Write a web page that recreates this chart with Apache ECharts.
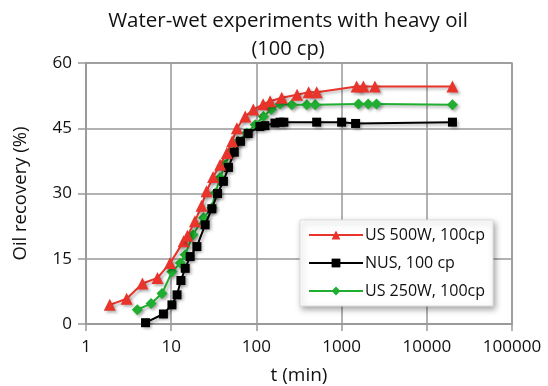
<!DOCTYPE html>
<html><head><meta charset="utf-8">
<script src="https://cdn.jsdelivr.net/npm/echarts@6/dist/echarts.min.js"></script>
<style>html,body{margin:0;padding:0;background:#fff}#c{width:548px;height:386px}</style>
</head><body><div id="c"></div>
<script>
const xTicks = [1, 10, 100, 1000, 10000, 100000];
const yTicks = [0, 15, 30, 45, 60];
const seriesNames = ['US 500W, 100cp', 'NUS, 100 cp', 'US 250W, 100cp'];
const us500 = [[1.9,4.4],[3,5.8],[4.6,9.3],[6.9,10.6],[9.7,14],[14,19],[15.5,20.3],[19,23.6],[22.7,27.2],[26,30.5],[31,33.8],[37.5,36.6],[45,39.3],[52,42],[59,45],[74,47.7],[92,49.3],[120,50.5],[145,51.2],[198,52],[300,52.7],[410,53.3],[510,53.3],[1500,54.6],[1800,54.6],[2460,54.6],[20000,54.6]];
const nus = [[5,0.3],[8.1,2.3],[10.2,4.4],[11.7,6.7],[13,10],[14.6,12.8],[16.7,15.5],[20,17.8],[25,22.8],[30,26.5],[35,30],[41,32.8],[47,36],[55,39.5],[65,42],[80,43.8],[110,45.4],[126,45.6],[165,46.2],[190,46.4],[210,46.4],[510,46.4],[1000,46.4],[1460,46.1],[20000,46.4]];
const us250 = [[4,3.3],[5.8,4.7],[7.8,7],[10.2,12],[12.8,14],[14.6,15.9],[18,20.5],[24,24.4],[30,26.7],[33,30.1],[37.5,33.6],[43,36.6],[49,39.3],[61,42],[77,43.9],[97,45.8],[121,47.7],[150,49.3],[190,50.6],[260,50.4],[390,50.4],[490,50.4],[1580,50.6],[2050,50.6],[2570,50.6],[20000,50.4]];
const colors = ['#e8342a', '#000000', '#1fae2f'];
const symbols = ['triangle', 'rect', 'diamond'];
const datas = [us500, nus, us250];
const FONT = '"Open Sans", sans-serif';
const chart = echarts.init(document.getElementById('c'), null, {renderer: 'canvas'});
chart.setOption({
  animation: false,
  backgroundColor: '#fff',
  title: [
    {text: 'Water-wet experiments with heavy oil', left: 283, top: 6, textAlign: 'center',
     textStyle: {fontFamily: FONT, fontSize: 20.5, fontWeight: 'normal', color: '#111'}},
    {text: '(100 cp)', left: 283, top: 34, textAlign: 'center',
     textStyle: {fontFamily: FONT, fontSize: 20, fontWeight: 'normal', color: '#111'}}
  ],
  legend: {
    orient: 'vertical', left: 300, top: 220, data: seriesNames,
    itemWidth: 54, itemHeight: 11, itemGap: 12,
    padding: [7, 8, 7, 8],
    backgroundColor: '#fff', borderColor: '#ddd', borderWidth: 1,
    shadowBlur: 6, shadowColor: 'rgba(0,0,0,0.35)', shadowOffsetX: 2, shadowOffsetY: 3,
    textStyle: {fontFamily: FONT, fontSize: 16, color: '#111', padding: [0, 0, 0, -3]}
  },
  grid: {left: 86, right: 36, top: 63, bottom: 62, outerBoundsMode: 'none', containLabel: false,
         show: true, borderColor: '#999', borderWidth: 1.5},
  xAxis: {
    type: 'log', logBase: 10, min: xTicks[0], max: xTicks[xTicks.length - 1],
    name: 't (min)', nameLocation: 'middle', nameGap: 42,
    nameTextStyle: {fontFamily: FONT, fontSize: 19, color: '#111'},
    axisLine: {show: true, lineStyle: {color: '#999', width: 1.5}},
    axisTick: {show: true, length: 7, lineStyle: {color: '#999', width: 1.5}},
    minorTick: {show: false},
    splitLine: {show: true, lineStyle: {color: '#999', width: 1.5}},
    axisLabel: {fontFamily: FONT, fontSize: 17, color: '#111', margin: 15,
      formatter: v => String(Math.round(v))}
  },
  yAxis: {
    type: 'value', min: yTicks[0], max: yTicks[yTicks.length - 1], interval: 15,
    name: 'Oil recovery (%)', nameLocation: 'middle', nameGap: 56,
    nameTextStyle: {fontFamily: FONT, fontSize: 18.5, color: '#111'},
    axisLine: {show: true, lineStyle: {color: '#999', width: 1.5}},
    axisTick: {show: true, length: 8, lineStyle: {color: '#999', width: 1.5}},
    splitLine: {show: true, lineStyle: {color: '#999', width: 1.5}},
    axisLabel: {fontFamily: FONT, fontSize: 17, color: '#111', margin: 14}
  },
  series: datas.map((d, i) => ({
    name: seriesNames[i], type: 'line', data: d, z: 3 - i + 2,
    symbol: symbols[i], symbolSize: i === 1 ? 9 : (i === 0 ? 12 : 11),
    showSymbol: true,
    lineStyle: {color: colors[i], width: 2, shadowBlur: 3, shadowColor: 'rgba(0,0,0,0.3)', shadowOffsetX: 2, shadowOffsetY: 2},
    itemStyle: {color: colors[i], borderWidth: 0, shadowBlur: 3, shadowColor: 'rgba(0,0,0,0.3)', shadowOffsetX: 2, shadowOffsetY: 2}
  }))
});
</script></body></html>
